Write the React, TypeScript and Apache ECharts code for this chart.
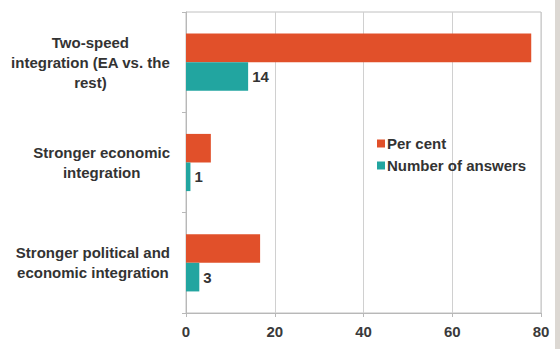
import React, { useEffect, useRef } from "react";
import * as echarts from "echarts";

const categories = [
  "Two-speed\nintegration (EA vs. the\nrest)",
  "Stronger economic\nintegration",
  "Stronger political and\neconomic integration",
];
const perCent = [77.8, 5.6, 16.7];
const numberOfAnswers = [14, 1, 3];
const xTicks = { min: 0, max: 80, interval: 20 };

const FONT = "'Liberation Sans', Arial, sans-serif";

export default function App() {
  const ref = useRef<HTMLDivElement>(null);
  useEffect(() => {
    if (!ref.current) return;
    const chart = echarts.init(ref.current, undefined, { renderer: "svg" });
    chart.setOption({
      animation: false,
      backgroundColor: "#ffffff",
      textStyle: { fontFamily: FONT },
      graphic: [
        {
          type: "rect",
          shape: { x: 555, y: 0, width: 5, height: 349 },
          style: { fill: "#dcd8d3" },
          silent: true,
        },
      ],
      grid: {
        left: 186,
        right: 19,
        top: 12,
        bottom: 36,
        show: true,
        borderWidth: 1,
        borderColor: "#c0c0c0",
        backgroundColor: "transparent",
      },
      legend: {
        orient: "vertical",
        left: 372,
        top: 131,
        itemWidth: 8,
        itemHeight: 8,
        itemGap: 7,
        icon: "rect",
        textStyle: {
          fontFamily: FONT,
          fontWeight: "bold",
          fontSize: 15,
          color: "#333",
          padding: [0, 0, 0, -3],
        },
        data: ["Per cent", "Number of answers"],
      },
      xAxis: {
        type: "value",
        min: xTicks.min,
        max: xTicks.max,
        interval: xTicks.interval,
        axisLine: { show: true, lineStyle: { color: "#b8b8b8" } },
        axisTick: { show: true, length: 4, lineStyle: { color: "#b8b8b8" } },
        splitLine: { show: true, lineStyle: { color: "#d0d0d0" } },
        axisLabel: {
          fontFamily: FONT,
          fontWeight: "bold",
          fontSize: 15,
          color: "#3a3a3a",
          margin: 11,
        },
      },
      yAxis: {
        type: "category",
        inverse: true,
        data: categories,
        axisLine: { show: true, lineStyle: { color: "#b8b8b8" } },
        axisTick: { show: true, length: 4, lineStyle: { color: "#b8b8b8" } },
        axisLabel: {
          margin: 16,
          align: "right",
          formatter: (v: string) =>
            v
              .split("\n")
              .map((l) => `{c|${l}}`)
              .join("\n"),
          rich: {
            c: {
              align: "center",
              fontFamily: FONT,
              fontWeight: "bold",
              fontSize: 15,
              lineHeight: 20,
              color: "#333",
            },
          },
        },
      },
      series: [
        {
          name: "Per cent",
          type: "bar",
          data: perCent,
          barGap: "0%",
          barCategoryGap: "43%",
          itemStyle: { color: "#e1502a" },
        },
        {
          name: "Number of answers",
          type: "bar",
          data: numberOfAnswers,
          itemStyle: { color: "#22a5a0" },
          label: {
            show: true,
            position: "right",
            distance: 4,
            fontFamily: FONT,
            fontWeight: "bold",
            fontSize: 15,
            color: "#333",
          },
        },
      ],
    });
    return () => chart.dispose();
  }, []);
  return <div ref={ref} style={{ width: 560, height: 349, position: "absolute", left: 0, top: 0 }} />;
}
